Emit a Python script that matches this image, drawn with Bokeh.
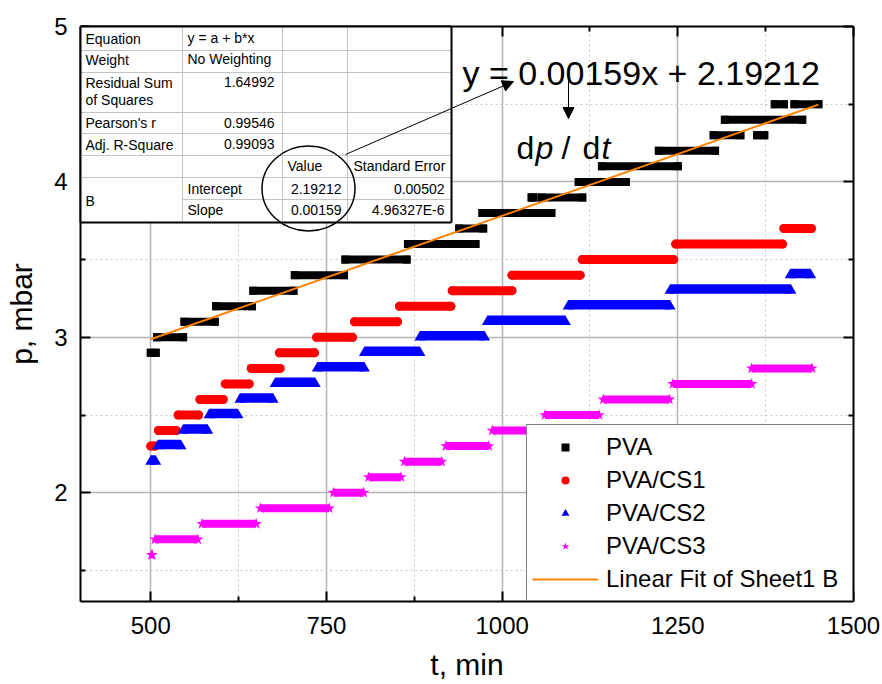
import math
from bokeh.plotting import figure
from bokeh.models import (Range1d, LinearAxis, FixedTicker, Legend, LegendItem, Label,
                          Arrow, NormalHead, CustomJSTickFormatter)
from bokeh.embed import file_html
from bokeh.resources import INLINE
from bokeh.core.properties import value

FONT = "Liberation Sans"

# ---------------- data (step start / step end time in min, pressure in mbar) ----------------
pva_t0 = [500, 509, 548, 593, 646, 705, 777, 866, 939, 972, 1042, 1056, 1109, 1142, 1223, 1301, 1363, 1317, 1388, 1416]
pva_t1 = [507, 546, 591, 644, 703, 775, 864, 962, 973, 1070, 1044, 1114, 1176, 1250, 1303, 1339, 1373, 1427, 1401, 1450]
pva_p = [2.9, 3.0, 3.1, 3.2, 3.3, 3.4, 3.5, 3.6, 3.7, 3.8, 3.9, 3.9, 4.0, 4.1, 4.2, 4.3, 4.3, 4.4, 4.5, 4.5]

cs1_t0 = [500, 511, 539, 570, 606, 643, 683, 736, 790, 854, 929, 1014, 1114, 1247, 1401]
cs1_t1 = [506, 536, 568, 603, 640, 684, 733, 787, 851, 927, 1014, 1111, 1244, 1399, 1440]
cs1_p = [2.3, 2.4, 2.5, 2.6, 2.7, 2.8, 2.9, 3.0, 3.1, 3.2, 3.3, 3.4, 3.5, 3.6, 3.7]

cs2_t0 = [500, 510, 546, 583, 627, 677, 737, 804, 883, 979, 1094, 1239, 1410]
cs2_t1 = [507, 543, 581, 624, 674, 734, 804, 883, 975, 1090, 1239, 1411, 1439]
cs2_p = [2.2, 2.3, 2.4, 2.5, 2.6, 2.7, 2.8, 2.9, 3.0, 3.1, 3.2, 3.3, 3.4]

cs3_t0 = [501, 506, 573, 656, 760, 810, 861, 920, 986, 1061, 1144, 1243, 1355]
cs3_t1 = [502, 567, 650, 754, 803, 856, 914, 981, 1047, 1138, 1238, 1355, 1441]
cs3_p = [1.6, 1.7, 1.8, 1.9, 2.0, 2.1, 2.2, 2.3, 2.4, 2.5, 2.6, 2.7, 2.8]

series_names = ["PVA", "PVA/CS1", "PVA/CS2", "PVA/CS3"]
fit_name = "Linear Fit of Sheet1 B"
fit_intercept = 2.19212
fit_slope = 0.00159
fit_t = [500, 1450]

x_ticks = [500, 750, 1000, 1250, 1500]
x_minor = [625, 875, 1125, 1375]
y_ticks = [2, 3, 4, 5]
y_minor = [1.5, 2.5, 3.5, 4.5]
x_title = "t, min"
y_title = "p, mbar"

# fit-report table contents
tbl_left_text = ["Equation", "y = a + b*x", "Weight", "No Weighting", "Residual Sum", "of Squares",
                 "Pearson's r", "Adj. R-Square", "Value", "Standard Error", "Intercept", "Slope", "B"]
tbl_right_text = ["1.64992", "0.99546", "0.99093", "2.19212", "0.00502", "0.00159", "4.96327E-6"]

# ---------------- layout helpers (page pixel -> data) ----------------
X0, X1, Y0, Y1 = 400, 1500, 1.3, 5.0
FL, FR, FT, FB = 80, 853, 26, 601
W, H = 882, 684


def dx(px):
    return X0 + (px - FL) * (X1 - X0) / (FR - FL)


def dy(py):
    return Y0 + (FB - py) * (Y1 - Y0) / (FB - FT)


PXY = (Y1 - Y0) / (FB - FT)

p = figure(width=W, height=H, x_range=Range1d(X0, X1), y_range=Range1d(Y0, Y1),
           output_backend="svg", toolbar_location=None,
           min_border_left=FL, min_border_right=W - FR,
           min_border_top=FT, min_border_bottom=H - FB)
p.outline_line_color = None
p.background_fill_color = "white"
p.border_fill_color = "white"

xt = FixedTicker(ticks=x_ticks, minor_ticks=x_minor)
yt = FixedTicker(ticks=y_ticks, minor_ticks=y_minor)


def style_axis(ax, ticker, show_labels):
    ax.ticker = ticker
    ax.axis_line_width = 2
    ax.axis_line_color = "black"
    ax.major_tick_in = 10
    ax.major_tick_out = 0
    ax.minor_tick_in = 5
    ax.minor_tick_out = 0
    ax.major_tick_line_width = 2
    ax.minor_tick_line_width = 2
    ax.major_tick_line_color = "black"
    ax.minor_tick_line_color = "black"
    ax.major_label_text_font = FONT
    ax.major_label_text_color = "black"
    ax.axis_label_text_font = FONT
    ax.axis_label_text_font_size = "30px"
    ax.axis_label_text_font_style = "normal"
    ax.axis_label_text_color = "black"
    if show_labels:
        ax.major_label_text_font_size = "24px"
    else:
        ax.formatter = CustomJSTickFormatter(code="return ''")
        ax.major_label_text_font_size = "1px"
        ax.major_label_standoff = 0


style_axis(p.xaxis[0], xt, True)
style_axis(p.yaxis[0], yt, True)
p.xaxis[0].major_label_standoff = 15
p.yaxis[0].major_label_standoff = 13
p.xaxis[0].axis_label = x_title
p.yaxis[0].axis_label = y_title
p.xaxis[0].axis_label_standoff = 11
p.yaxis[0].axis_label_standoff = 13
top_ax = LinearAxis()
right_ax = LinearAxis()
style_axis(top_ax, xt, False)
style_axis(right_ax, yt, False)
p.add_layout(top_ax, "above")
p.add_layout(right_ax, "right")

for g, t in ((p.xgrid[0], xt), (p.ygrid[0], yt)):
    g.ticker = t
    g.grid_line_color = "#b4b4b4"
    g.grid_line_width = 1.5
    g.minor_grid_line_color = "#c8c8c8"
    g.minor_grid_line_width = 1
    g.minor_grid_line_dash = "2 3"

# ---------------- data series ----------------
# PVA: black squares
p.segment(x0=pva_t0, y0=pva_p, x1=pva_t1, y1=pva_p, line_color="black", line_width=8, line_cap="square")
r_pva = p.scatter(pva_t0 + pva_t1, pva_p + pva_p, marker="square", size=8,
                  fill_color="black", line_color="black", line_width=0)

# PVA/CS1: red circles
p.segment(x0=cs1_t0, y0=cs1_p, x1=cs1_t1, y1=cs1_p, line_color="#FF0000", line_width=9, line_cap="round")
r_cs1 = p.scatter(cs1_t0 + cs1_t1, cs1_p + cs1_p, marker="circle", size=9,
                  fill_color="#FF0000", line_color="#FF0000", line_width=0)

# PVA/CS2: blue triangles (triangle marker: apex 0.577*s above centre, base 0.289*s below)
TRI = 11
p.quad(left=cs2_t0, right=cs2_t1,
       bottom=[v - 0.289 * TRI * PXY for v in cs2_p], top=[v + 0.577 * TRI * PXY for v in cs2_p],
       fill_color="#0000FF", line_color=None)
r_cs2 = p.scatter(cs2_t0 + cs2_t1, cs2_p + cs2_p, marker="triangle", size=TRI,
                  fill_color="#0000FF", line_color="#0000FF", line_width=0)

# PVA/CS3: magenta stars
p.segment(x0=cs3_t0, y0=cs3_p, x1=cs3_t1, y1=cs3_p, line_color="#FF00FF", line_width=8, line_cap="butt")
r_cs3 = p.scatter(cs3_t0 + cs3_t1, cs3_p + cs3_p, marker="star", size=12,
                  fill_color="#FF00FF", line_color="#FF00FF", line_width=0)

# linear fit
fit_p = [fit_intercept + fit_slope * t for t in fit_t]
r_fit = p.line(fit_t, fit_p, line_color="#FF8000", line_width=2)

# ---------------- fit report table ----------------
col_px = [80, 182, 282, 347, 451]
row_px = [26, 50, 72, 112, 133, 155, 177, 199, 222]
LV = "annotation"
p.quad(left=dx(col_px[0]), right=dx(col_px[-1]), top=dy(row_px[0]), bottom=dy(row_px[-1]),
       fill_color="white", line_color=None, level=LV)
hx0 = [dx(col_px[0])] * 6 + [dx(col_px[1])]
hx1 = [dx(col_px[-1])] * 7
hy = [dy(r) for r in row_px[1:8]]
p.segment(x0=hx0, y0=hy, x1=hx1, y1=hy, line_color="#c4c4c4", line_width=1, level=LV)
vx = [dx(c) for c in col_px[1:4]]
p.segment(x0=vx, y0=[dy(row_px[0])] * 3, x1=vx, y1=[dy(row_px[-1])] * 3,
          line_color="#c4c4c4", line_width=1, level=LV)
# outer border
p.segment(x0=[dx(80), dx(80), dx(451), dx(80)], y0=[dy(26), dy(26), dy(26), dy(222)],
          x1=[dx(451), dx(80), dx(451), dx(451)], y1=[dy(26), dy(222), dy(222), dy(222)],
          line_color="black", line_width=2, level=LV)

left_pos = [(85, 38.5), (187, 37.5), (85, 59.5), (187, 58.5), (85, 82), (85, 99.5),
            (85, 122.5), (85, 144), (287, 165), (353, 165), (187, 188), (187, 209.5), (85, 200)]
right_pos = [(274, 81.5), (274, 122), (274, 143.5), (341, 188), (444, 188), (341, 209.5), (444, 209.5)]
p.text(x=[dx(a) for a, b in left_pos], y=[dy(b) for a, b in left_pos], text=tbl_left_text,
       text_font=value(FONT), text_font_size="14px", text_align="left", text_baseline="middle",
       text_color="black", level=LV)
p.text(x=[dx(a) for a, b in right_pos], y=[dy(b) for a, b in right_pos], text=tbl_right_text,
       text_font=value(FONT), text_font_size="14px", text_align="right", text_baseline="middle",
       text_color="black", level=LV)

# circle around values
p.ellipse(x=dx(308), y=dy(188), width=93, height=85, width_units="screen", height_units="screen",
          fill_color=None, line_color="black", line_width=1.5, level="overlay")

# arrows
a1 = Arrow(x_start=dx(345), y_start=dy(154), x_end=dx(513), y_end=dy(81), line_width=1, line_color="black",
           end=NormalHead(size=11, fill_color="black", line_color="black", line_width=1), level="overlay")
a2 = Arrow(x_start=dx(568), y_start=dy(80), x_end=dx(568), y_end=dy(118), line_width=1, line_color="black",
           end=NormalHead(size=11, fill_color="black", line_color="black", line_width=1), level="overlay")
p.add_layout(a1)
p.add_layout(a2)


def lab(x, y, text, size, style="normal", align="left"):
    l = Label(x=dx(x), y=dy(y), text=text, text_font=FONT, text_font_size=size, text_font_style=style,
              text_align=align, text_baseline="alphabetic", text_color="black", level="overlay")
    p.add_layout(l)


# equation and derivative
lab(462, 72, f"y = {fit_slope:.5f}x + {fit_intercept:.5f}", "34px")
lab(516, 147, "d", "32px")
lab(535, 147, "p", "32px", style="italic")
lab(561, 147, "/", "32px")
lab(582, 147, "d", "32px")
lab(601, 147, "t", "32px", style="italic")

# ---------------- legend ----------------
legend = Legend(items=[LegendItem(label=series_names[0], renderers=[r_pva]),
                       LegendItem(label=series_names[1], renderers=[r_cs1]),
                       LegendItem(label=series_names[2], renderers=[r_cs2]),
                       LegendItem(label=series_names[3], renderers=[r_cs3]),
                       LegendItem(label=fit_name, renderers=[r_fit])],
                location="bottom_right", margin=0, padding=5, spacing=0,
                label_height=33, glyph_height=20, glyph_width=66, label_standoff=8, label_width=241,
                label_text_font=FONT, label_text_font_size="24px", label_text_color="black",
                border_line_color="black", border_line_width=1.5,
                background_fill_color="white", background_fill_alpha=1.0)
p.add_layout(legend)

open("out.html", "w").write(file_html(p, INLINE))
